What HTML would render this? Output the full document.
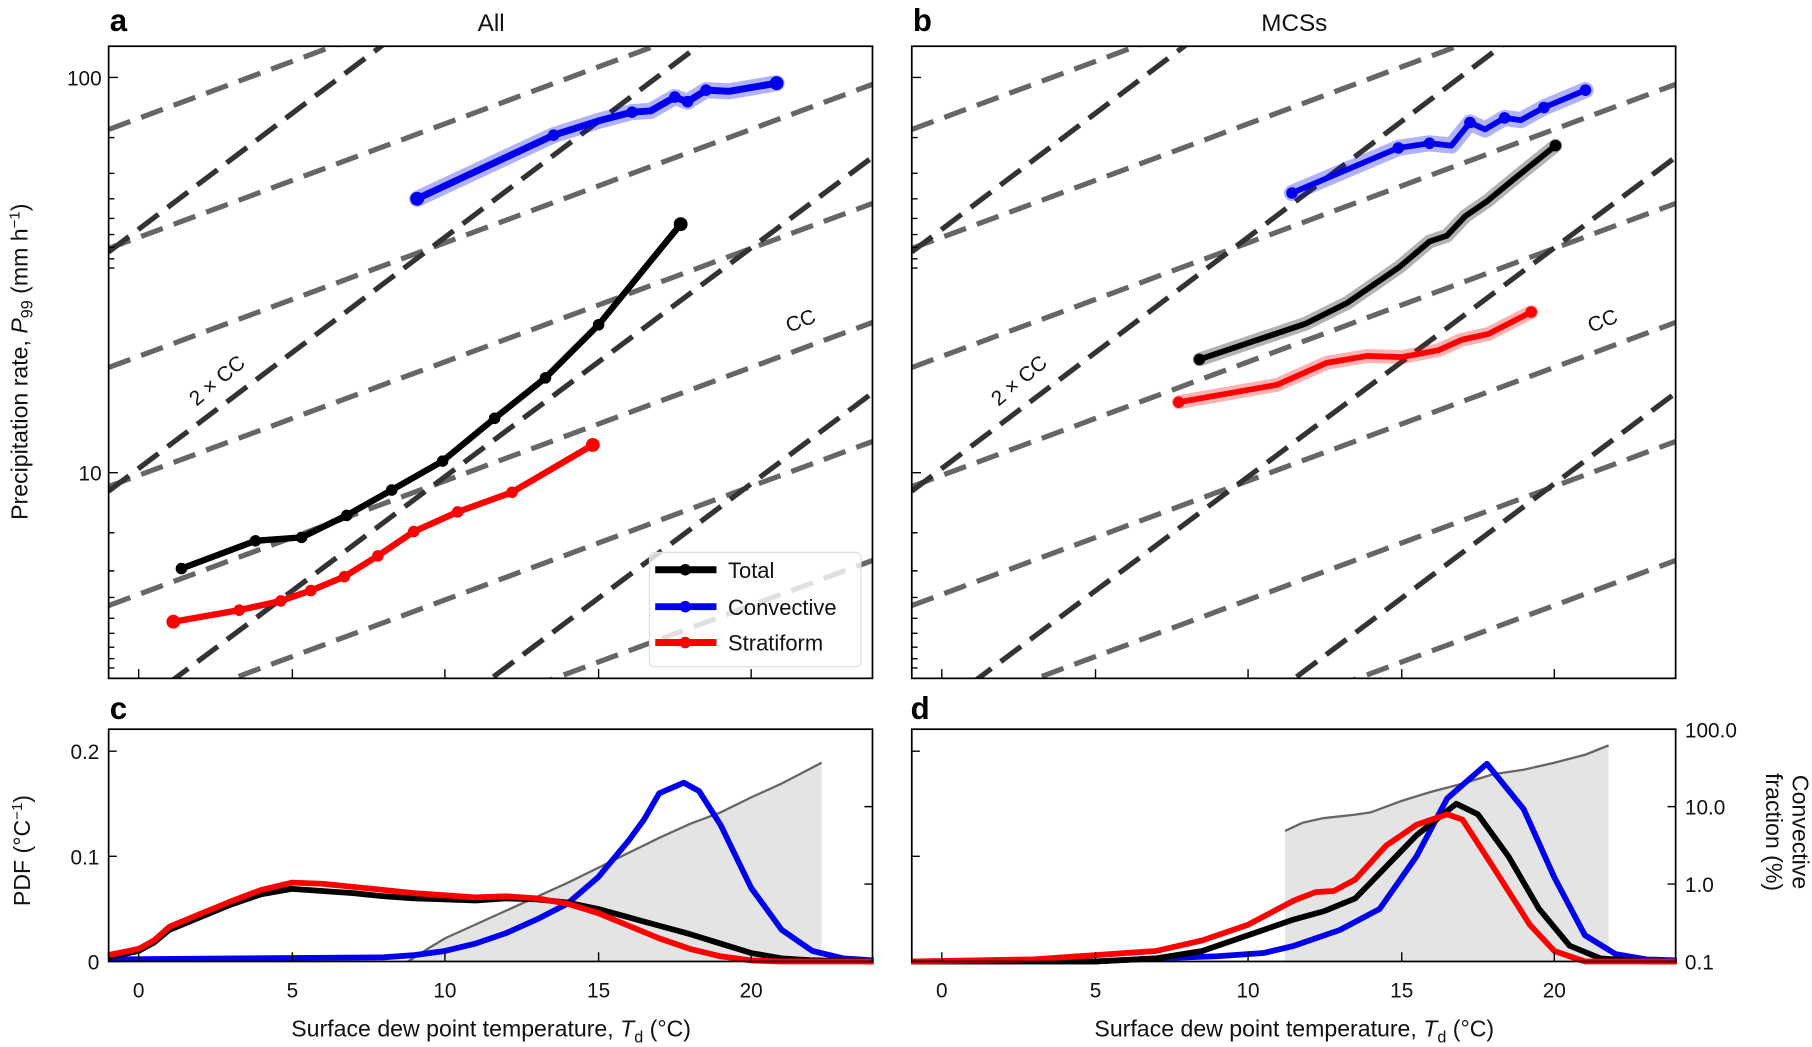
<!DOCTYPE html>
<html><head><meta charset="utf-8"><style>
html,body{margin:0;padding:0;background:#fff;}
svg{display:block;font-family:"Liberation Sans",sans-serif;}
</style></head><body>
<svg width="1812" height="1047" viewBox="0 0 1568 906" xmlns="http://www.w3.org/2000/svg">
<defs>
<clipPath id="ca"><rect x="94" y="40" width="661" height="547"/></clipPath>
<clipPath id="cb"><rect x="789" y="40" width="661" height="547"/></clipPath>
<g id="guides">
 <g stroke="#666" stroke-width="4.5" stroke-dasharray="20,10" fill="none">
  <line x1="94" y1="112" x2="755" y2="-133"/><line x1="94" y1="215" x2="755" y2="-30"/>
  <line x1="94" y1="318" x2="755" y2="73"/><line x1="94" y1="421" x2="755" y2="176"/>
  <line x1="94" y1="524" x2="755" y2="279"/><line x1="94" y1="627" x2="755" y2="382"/>
  <line x1="94" y1="730" x2="755" y2="485"/><line x1="94" y1="833" x2="755" y2="588"/>
 </g>
 <g stroke="#333" stroke-width="4.5" stroke-dasharray="22,10" fill="none">
  <line x1="94" y1="218" x2="755" y2="-281"/><line x1="94" y1="425" x2="755" y2="-74"/>
  <line x1="94" y1="630" x2="755" y2="136"/><line x1="94" y1="835" x2="755" y2="340"/>
 </g>
</g>
</defs>
<rect width="1568" height="906" fill="#fff"/>

<g clip-path="url(#ca)"><use href="#guides"/></g>
<g clip-path="url(#cb)"><use href="#guides" transform="translate(695,0)"/></g>

<g fill="none" stroke-linejoin="round" stroke-linecap="round">
 <polyline points="361,172 479,117 520,104 547,97 563,96 584,84 595,88 611,78 631,79 672,72" stroke="#0000ee" stroke-opacity="0.3" stroke-width="14"/>
 <polyline points="361,172 479,117 520,104 547,97 563,96 584,84 595,88 611,78 631,79 672,72" stroke="#0000ee" stroke-width="6"/>
 <polyline points="157,492 221,468 261,465 300,446 339,424 383,399 428,362 472,327 518,281 589,194" stroke="#000" stroke-width="5.5"/>
 <polyline points="150,538 207,528 243,520 269,511 298,499 327,481 358,460 396,443 443,426 513,385" stroke="#f00" stroke-width="5.5"/>
 <polyline points="1118,167 1210,128 1237,124 1256,126 1272,106 1285,112 1302,102 1316,104 1336,93 1372,78" stroke="#0000ee" stroke-opacity="0.3" stroke-width="14"/>
 <polyline points="1118,167 1210,128 1237,124 1256,126 1272,106 1285,112 1302,102 1316,104 1336,93 1372,78" stroke="#0000ee" stroke-width="5"/>
 <polyline points="1038,311 1130,280 1166,262 1211,231 1237,209 1252,204 1268,187 1287,174 1310,155 1346,126" stroke="#000" stroke-opacity="0.3" stroke-width="12"/>
 <polyline points="1038,311 1130,280 1166,262 1211,231 1237,209 1252,204 1268,187 1287,174 1310,155 1346,126" stroke="#000" stroke-width="5"/>
 <polyline points="1020,348 1105,333 1148,314 1183,308 1213,309 1245,303 1265,294 1288,289 1325,270" stroke="#f00" stroke-opacity="0.3" stroke-width="12"/>
 <polyline points="1020,348 1105,333 1148,314 1183,308 1213,309 1245,303 1265,294 1288,289 1325,270" stroke="#f00" stroke-width="5"/>
</g>
<g fill="#0000ee">
 <circle cx="361" cy="172" r="6"/><circle cx="479" cy="117" r="5"/><circle cx="547" cy="97" r="5"/><circle cx="584" cy="84" r="5"/><circle cx="595" cy="88" r="5"/><circle cx="611" cy="78" r="5"/><circle cx="672" cy="72" r="6"/>
 <circle cx="1118" cy="167" r="5"/><circle cx="1210" cy="128" r="5"/><circle cx="1237" cy="124" r="5"/><circle cx="1272" cy="106" r="5"/><circle cx="1302" cy="102" r="5"/><circle cx="1336" cy="93" r="5"/><circle cx="1372" cy="78" r="5"/>
</g>
<g fill="#000">
 <circle cx="157" cy="492" r="5"/><circle cx="221" cy="468" r="5"/><circle cx="261" cy="465" r="5"/><circle cx="300" cy="446" r="5"/><circle cx="339" cy="424" r="5"/><circle cx="383" cy="399" r="5"/><circle cx="428" cy="362" r="5"/><circle cx="472" cy="327" r="5"/><circle cx="518" cy="281" r="5"/><circle cx="589" cy="194" r="6"/>
 <circle cx="1038" cy="311" r="5"/><circle cx="1346" cy="126" r="5"/>
</g>
<g fill="#f00">
 <circle cx="150" cy="538" r="6"/><circle cx="207" cy="528" r="5"/><circle cx="243" cy="520" r="5"/><circle cx="269" cy="511" r="5"/><circle cx="298" cy="499" r="5"/><circle cx="327" cy="481" r="5"/><circle cx="358" cy="460" r="5"/><circle cx="396" cy="443" r="5"/><circle cx="443" cy="426" r="5"/><circle cx="513" cy="385" r="6"/>
 <circle cx="1020" cy="348" r="5"/><circle cx="1325" cy="270" r="5"/>
</g>

<rect x="562" y="478" width="183" height="99" rx="4" fill="#fff" fill-opacity="0.8" stroke="#ddd"/>
<g stroke-width="6"><line x1="567" y1="493" x2="620" y2="493" stroke="#000"/><line x1="567" y1="525" x2="620" y2="525" stroke="#0000ee"/><line x1="567" y1="556" x2="620" y2="556" stroke="#f00"/></g>
<circle cx="593" cy="493" r="5"/><circle cx="593" cy="525" r="5" fill="#0000ee"/><circle cx="593" cy="556" r="5" fill="#f00"/>
<g font-size="19" fill="#111"><text x="630" y="500">Total</text><text x="630" y="532">Convective</text><text x="630" y="563">Stratiform</text></g>

<g font-size="18" fill="#111">
<text transform="translate(170,352) rotate(-40)">2 × CC</text>
<text transform="translate(683,288) rotate(-22)">CC</text>
<text transform="translate(864,352) rotate(-40)">2 × CC</text>
<text transform="translate(1377,288) rotate(-22)">CC</text>
</g>

<rect x="94" y="40" width="661" height="547" fill="none" stroke="#000" stroke-width="1.5"/>
<rect x="789" y="40" width="661" height="547" fill="none" stroke="#000" stroke-width="1.5"/>
<g stroke="#000" stroke-width="1.2">
 <path d="M94,67h8M94,409h8M94,119h5M94,150h5M94,172h5M94,189h5M94,203h5M94,214h5M94,224h5M94,232h5M94,461h5M94,494h5M94,517h5M94,535h5M94,548h5M94,560h5M94,570h5M94,578h5"/>
 <path d="M789,67h8M789,409h8M789,119h5M789,150h5M789,172h5M789,189h5M789,203h5M789,214h5M789,224h5M789,232h5M789,461h5M789,494h5M789,517h5M789,535h5M789,548h5M789,560h5M789,570h5M789,578h5"/>
 <path d="M120,587v-8M253,587v-8M385,587v-8M518,587v-8M650,587v-8M815,587v-8M948,587v-8M1080,587v-8M1213,587v-8M1345,587v-8"/>
</g>
<g font-size="18" fill="#111" text-anchor="end"><text x="88" y="74">100</text><text x="88" y="416">10</text></g>
<text transform="translate(24,313) rotate(-90)" font-size="20" text-anchor="middle" fill="#111">Precipitation rate, <tspan font-style="italic">P</tspan><tspan font-size="14" dy="4">99</tspan><tspan dy="-4"> (mm h</tspan><tspan font-size="13" dy="-7">−1</tspan><tspan dy="7">)</tspan></text>
<g font-size="21" fill="#111" text-anchor="middle"><text x="425" y="27">All</text><text x="1120" y="27">MCSs</text></g>
<g font-size="27" font-weight="bold" fill="#000"><text x="95" y="27">a</text><text x="790" y="27">b</text><text x="95" y="622">c</text><text x="788" y="622">d</text></g>

<polygon points="353,832 371.8,820 385,812 411.5,800 438,788 464.5,776 491,764 517.5,751 544,738 570.5,725 597,713 623.5,703 650,690 676.5,678 711,660 711,832" fill="#e4e4e4"/>
<polyline points="353,832 371.8,820 385,812 411.5,800 438,788 464.5,776 491,764 517.5,751 544,738 570.5,725 597,713 623.5,703 650,690 676.5,678 711,660" fill="none" stroke="#666" stroke-width="2"/>
<g fill="none" stroke-width="5" stroke-linejoin="round">
<polyline stroke="#0000ee" points="93.5,830.2 332,828.4 358.5,826.5 385,822.9 411.5,816.5 438,807.4 464.5,795.6 491,782 517.5,759.2 544,727.4 557.3,709.2 570.5,686.4 591.7,677.3 605,684.6 623.5,713.7 650,768.3 676.5,804.7 703,822.9 729.5,829.3 756,831.1"/>
<polyline stroke="#000" points="93.5,828.4 120,822.9 133.3,815.6 146.5,804.7 173,793.8 199.5,782.9 226,773.8 252.5,769.2 279,771 305.5,772.9 332,775.6 358.5,777.4 385,778.3 411.5,779.2 438,777.4 464.5,778.3 491,781 517.5,786.5 544,793.8 570.5,801.1 597,808.3 623.5,816.5 650,824.7 676.5,829.3 703,831 756,832"/>
<polyline stroke="#f00" points="93.5,826.5 120,821.1 133.3,813.8 146.5,802 173,791 199.5,780.1 226,770.1 252.5,763.8 279,764.7 305.5,767.4 332,770.1 358.5,772.9 385,774.7 411.5,776.5 438,775.6 464.5,777.4 491,782 517.5,790.1 544,801.1 570.5,812 597,821.1 623.5,827.5 650,831.1 676.5,832 756,832"/>
</g>

<polygon points="1112,832 1112,719 1127,712 1145,708 1172,705 1186,703 1213,693 1239,685 1266,678 1292,670 1319,666 1345,660 1372,653 1392,645 1392,832" fill="#e4e4e4"/>
<polyline points="1112,719 1127,712 1145,708 1172,705 1186,703 1213,693 1239,685 1266,678 1292,670 1319,666 1345,660 1372,653 1392,645" fill="none" stroke="#666" stroke-width="2"/>
<g fill="none" stroke-width="5" stroke-linejoin="round">
<polyline stroke="#0000ee" points="788.5,832 947.5,832 1000.5,829.3 1053.5,827.5 1093.3,824.7 1119.8,818.4 1159.5,804.7 1193.9,786.5 1225.8,741 1252.3,690.9 1286.7,660.9 1318.5,700.1 1345,759.2 1371.5,809.3 1398,825.6 1424.5,830.2 1451,831.1"/>
<polyline stroke="#000" points="788.5,832 947.5,832 1000.5,829.3 1040.3,822.9 1080,809.3 1119.8,795.6 1146.3,788.3 1172.8,777.4 1199.3,750.1 1225.8,722.8 1260.2,695.5 1278.8,704.6 1305.3,741 1331.8,786.5 1358.3,818.4 1384.8,829.3 1424.5,832 1451,832"/>
<polyline stroke="#f00" points="788.5,832 894.5,830.2 1000.5,822.9 1040.3,813.8 1080,800.2 1119.8,779.2 1138.3,772 1154.2,771 1172.8,761 1199.3,731.9 1225.8,713.7 1252.3,704.6 1265.5,709.2 1292,750.1 1323.8,800.2 1345,822.9 1371.5,832 1451,832"/>
</g>

<rect x="94" y="631" width="661" height="201" fill="none" stroke="#000" stroke-width="1.5"/>
<rect x="789" y="631" width="661" height="201" fill="none" stroke="#000" stroke-width="1.5"/>
<g stroke="#000" stroke-width="1.2">
 <path d="M94,650h7M94,741h7M789,650h7M789,741h7M755,698h-7M755,765h-7M1450,698h-7M1450,765h-7"/>
 <path d="M120,832v-8M253,832v-8M385,832v-8M518,832v-8M650,832v-8M815,832v-8M948,832v-8M1080,832v-8M1213,832v-8M1345,832v-8"/>
</g>
<g font-size="18" fill="#111" text-anchor="end"><text x="86" y="657">0.2</text><text x="86" y="748">0.1</text><text x="86" y="839">0</text></g>
<g font-size="18" fill="#111"><text x="1458" y="638">100.0</text><text x="1458" y="705">10.0</text><text x="1458" y="772">1.0</text><text x="1458" y="839">0.1</text></g>
<g font-size="18" fill="#111" text-anchor="middle">
<text x="120" y="863">0</text><text x="253" y="863">5</text><text x="385" y="863">10</text><text x="518" y="863">15</text><text x="650" y="863">20</text>
<text x="815" y="863">0</text><text x="948" y="863">5</text><text x="1080" y="863">10</text><text x="1213" y="863">15</text><text x="1345" y="863">20</text>
</g>
<g font-size="20" fill="#111" text-anchor="middle">
<text x="425" y="897">Surface dew point temperature, <tspan font-style="italic">T</tspan><tspan font-size="14" dy="5">d</tspan><tspan dy="-5"> (°C)</tspan></text>
<text x="1120" y="897">Surface dew point temperature, <tspan font-style="italic">T</tspan><tspan font-size="14" dy="5">d</tspan><tspan dy="-5"> (°C)</tspan></text>
</g>
<text transform="translate(26,736) rotate(-90)" font-size="20" text-anchor="middle" fill="#111">PDF (°C<tspan font-size="13" dy="-7">−1</tspan><tspan dy="7">)</tspan></text>
<text transform="translate(1551,720) rotate(90)" font-size="20" text-anchor="middle" fill="#111">Convective</text>
<text transform="translate(1528,720) rotate(90)" font-size="20" text-anchor="middle" fill="#111">fraction (%)</text>
</svg>
</body></html>
